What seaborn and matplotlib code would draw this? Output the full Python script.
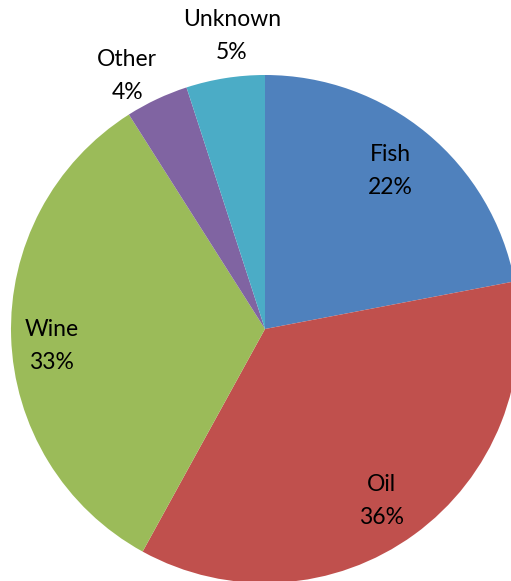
import matplotlib
matplotlib.use("Agg")
import matplotlib.pyplot as plt
import seaborn as sns

categories = ["Fish", "Oil", "Wine", "Other", "Unknown"]
shares = [22, 36, 33, 4, 5]
colors = ["#4F81BD", "#C0504D", "#9BBB59", "#8064A2", "#4BACC6"]

# label anchor positions (in pie radius units)
label_pos = [(0.492, 0.622), (0.457, -0.677), (-0.839, -0.067), (-0.543, 0.996), (-0.130, 1.154)]

sns.set_style("white")
plt.rcParams["font.family"] = ["Lato", "DejaVu Sans"]

W, H = 511, 581
fig = plt.figure(figsize=(W / 100, H / 100), dpi=100)
ax = fig.add_axes([0, 0, 1, 1])

ax.pie(shares, colors=colors, startangle=90, counterclock=False,
       wedgeprops=dict(linewidth=0))

cx, cy, r = 265, 329, 254
ax.set_xlim(-cx / r, (W - cx) / r)
ax.set_ylim(-(H - cy) / r, cy / r)
ax.set_aspect("auto")
ax.axis("off")

for cat, val, (x, y) in zip(categories, shares, label_pos):
    ax.text(x, y, f"{cat}\n{val}%", ha="center", va="center",
            fontsize=16.5, color="black", linespacing=1.72)

fig.savefig("out.png", dpi=100)
